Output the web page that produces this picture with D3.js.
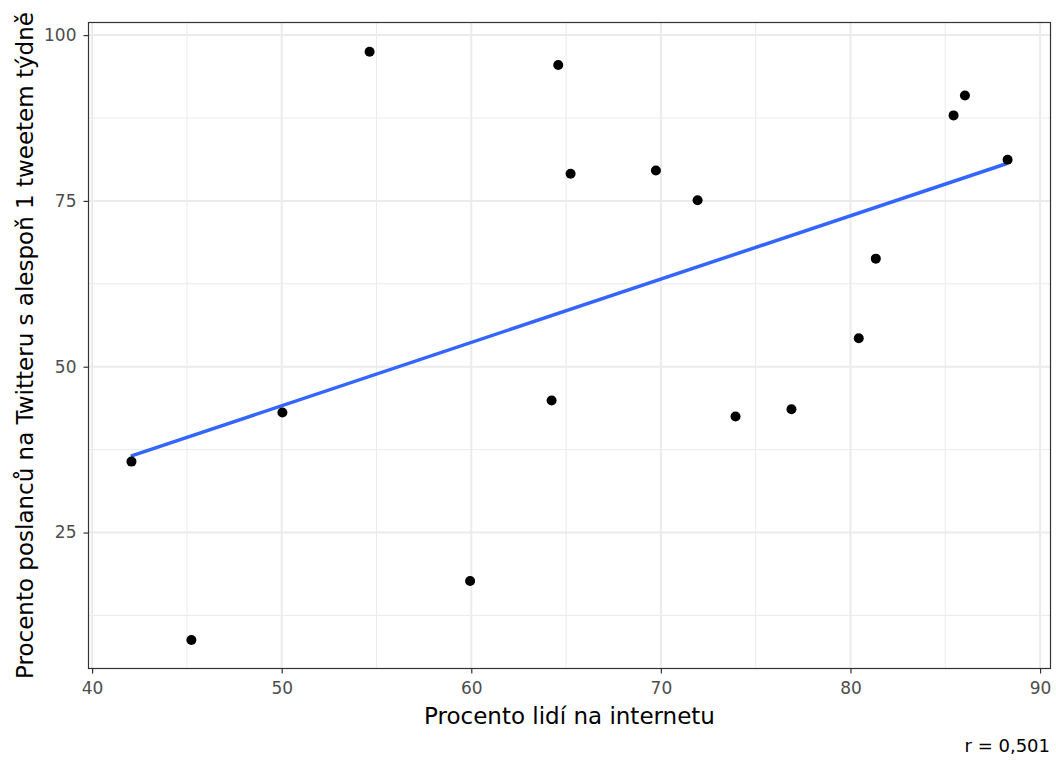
<!DOCTYPE html>
<html><head><meta charset="utf-8">
<script src="https://cdn.jsdelivr.net/npm/d3@7"></script>
<style>body{margin:0;background:#fff}svg{display:block}</style>
</head><body><svg id="c" width="1056" height="760"></svg>
<script>
const internet = [42.04,45.2,50.0,54.6,59.9,64.2,64.55,65.2,69.7,71.9,73.9,76.85,80.4,81.3,85.4,86.0,88.25];
const tweeting = [35.8,8.9,43.2,97.6,17.8,45.0,95.6,79.2,79.7,75.2,42.6,43.7,54.4,66.4,88.0,91.0,81.3];
const xTicks = [40,50,60,70,80,90];
const xMinor = [45,55,65,75,85];
const yTicks = [25,50,75,100];
const yMinor = [12.5,37.5,62.5,87.5];
const xTitle = "Procento lidí na internetu";
const yTitle = "Procento poslanců na Twitteru s alespoň 1 tweetem týdně";
const caption = "r = 0,501";

const svg = d3.select("#c");
const L=88.5, R=1050.5, T=22.5, B=668.5;
const x = d3.scaleLinear().domain([39.81,90.55]).range([L,R]);
const y = d3.scaleLinear().domain([4.5,101.9]).range([B,T]);
const font = "DejaVu Sans, sans-serif";

const g = svg.append("g");
g.selectAll(".xm").data(xMinor).join("line").attr("x1",d=>x(d)).attr("x2",d=>x(d)).attr("y1",T).attr("y2",B).attr("stroke","#ebebeb").attr("stroke-width",1);
g.selectAll(".ym").data(yMinor).join("line").attr("y1",d=>y(d)).attr("y2",d=>y(d)).attr("x1",L).attr("x2",R).attr("stroke","#ebebeb").attr("stroke-width",1);
g.selectAll(".xM").data(xTicks).join("line").attr("x1",d=>x(d)).attr("x2",d=>x(d)).attr("y1",T).attr("y2",B).attr("stroke","#ebebeb").attr("stroke-width",2);
g.selectAll(".yM").data(yTicks).join("line").attr("y1",d=>y(d)).attr("y2",d=>y(d)).attr("x1",L).attr("x2",R).attr("stroke","#ebebeb").attr("stroke-width",2);

// regression (least squares fit of the data)
const n=internet.length, mx=d3.mean(internet), my=d3.mean(tweeting);
let sxy=0,sxx=0; for(let i=0;i<n;i++){sxy+=(internet[i]-mx)*(tweeting[i]-my); sxx+=(internet[i]-mx)**2;}
const b=sxy/sxx, a=my-b*mx;
const x0=d3.min(internet), x1=d3.max(internet);
g.append("line").attr("x1",x(x0)).attr("y1",y(a+b*x0)).attr("x2",x(x1)).attr("y2",y(a+b*x1)).attr("stroke","#3366FF").attr("stroke-width",3.5);

g.selectAll("circle").data(internet).join("circle").attr("cx",d=>x(d)+0.7).attr("cy",(d,i)=>y(tweeting[i])+0.7).attr("r",5).attr("fill","#000");

svg.append("rect").attr("x",L).attr("y",T).attr("width",R-L).attr("height",B-T).attr("fill","none").attr("stroke","#333").attr("stroke-width",1.2);

const xa = svg.append("g").attr("transform",`translate(0,${B})`).call(d3.axisBottom(x).tickValues(xTicks).tickSize(5).tickPadding(8));
const ya = svg.append("g").attr("transform",`translate(${L},0)`).call(d3.axisLeft(y).tickValues(yTicks).tickSize(5).tickPadding(7));
[xa,ya].forEach(a=>{
  a.attr("font-size",17).attr("font-family",font);
  a.select(".domain").remove();
  a.selectAll("line").attr("stroke","#333").attr("stroke-width",1.2);
  a.selectAll("text").attr("fill","#4d4d4d").style("font-family",font).style("font-size","17px");
});

svg.append("text").attr("x",(L+R)/2).attr("y",724).attr("text-anchor","middle").style("font-family",font).style("font-size","23px").attr("fill","#000").text(xTitle);
svg.append("text").attr("transform",`translate(33,${(T+B)/2}) rotate(-90)`).attr("text-anchor","middle").style("font-family",font).style("font-size","23px").attr("fill","#000").text(yTitle);
svg.append("text").attr("x",1050).attr("y",752).attr("text-anchor","end").style("font-family",font).style("font-size","18px").attr("fill","#000").text(caption);
</script></body></html>
